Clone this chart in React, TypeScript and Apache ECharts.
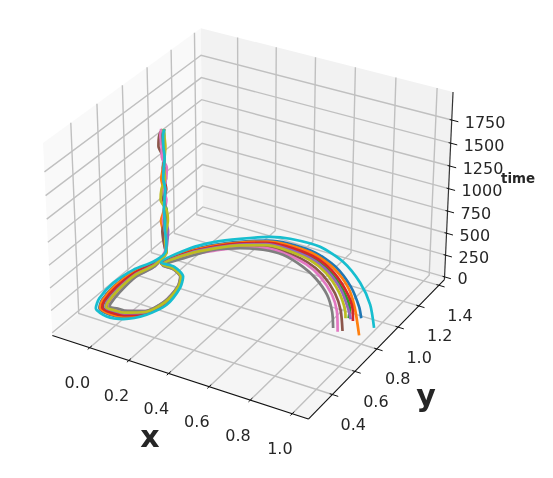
import React, { useEffect, useRef } from "react";
import * as echarts from "echarts";

const xTicks = [0, 0.2, 0.4, 0.6, 0.8, 1.0];
const yTicks = [0.4, 0.6, 0.8, 1.0, 1.2, 1.4];
const zTicks = [0, 250, 500, 750, 1000, 1250, 1500, 1750];
const xLimits = [-0.1935, 1.0765];
const yLimits = [0.194, 1.455];
const zLimits = [-33, 2050];

const timeSamples = [
  -30, -30, -30, -30, -30, -30, -30, -30, -30, -30, -30,
  -30, -30, -30, -30, -30, -30, -30, -30, -30, -30, -30, -30,
  60, 180, 300, 420, 540, 660, 780, 900, 1020, 1140, 1260, 1380, 1450,
];

const blueX = [0.904, 0.852, 0.74, 0.599, 0.459, 0.307, 0.217, 0.11, 0.024, -0.049, -0.102, -0.037, 0.041, 0.078, 0.099, 0.067, -0.006, -0.072, -0.139, -0.166, -0.183, -0.173, -0.135, -0.103, -0.106, -0.099, -0.106, -0.099, -0.106, -0.103, -0.099, -0.106, -0.103, -0.099, -0.106, -0.11];
const blueY = [0.982, 1.06, 1.191, 1.308, 1.372, 1.381, 1.358, 1.284, 1.203, 1.101, 0.94, 0.94, 0.89, 0.804, 0.656, 0.544, 0.473, 0.459, 0.482, 0.545, 0.674, 0.818, 0.929, 0.978, 0.976, 0.98, 0.976, 0.98, 0.976, 0.978, 0.98, 0.976, 0.978, 0.98, 0.976, 0.974];
const orangeX = [0.961, 0.838, 0.734, 0.597, 0.461, 0.31, 0.219, 0.113, 0.027, -0.046, -0.1, -0.037, 0.04, 0.078, 0.098, 0.065, -0.007, -0.071, -0.137, -0.162, -0.18, -0.17, -0.134, -0.103, -0.099, -0.11, -0.118, -0.106, -0.103, -0.106, -0.114, -0.106, -0.099, -0.103, -0.106, -0.103];
const orangeY = [0.855, 1.045, 1.178, 1.293, 1.357, 1.369, 1.349, 1.278, 1.197, 1.096, 0.938, 0.939, 0.889, 0.804, 0.657, 0.545, 0.476, 0.463, 0.484, 0.544, 0.672, 0.815, 0.927, 0.978, 0.98, 0.974, 0.969, 0.976, 0.978, 0.976, 0.972, 0.976, 0.98, 0.978, 0.976, 0.978];
const greenX = [0.856, 0.823, 0.722, 0.591, 0.465, 0.315, 0.224, 0.121, 0.035, -0.04, -0.096, -0.036, 0.038, 0.075, 0.094, 0.061, -0.014, -0.07, -0.127, -0.149, -0.166, -0.162, -0.129, -0.099, -0.103, -0.106, -0.099, -0.095, -0.106, -0.099, -0.103, -0.099, -0.106, -0.103, -0.099, -0.099];
const greenY = [0.955, 1.027, 1.149, 1.262, 1.326, 1.345, 1.33, 1.266, 1.185, 1.086, 0.935, 0.935, 0.888, 0.805, 0.661, 0.55, 0.488, 0.479, 0.492, 0.54, 0.662, 0.806, 0.921, 0.98, 0.978, 0.976, 0.98, 0.982, 0.976, 0.98, 0.978, 0.98, 0.976, 0.978, 0.98, 0.98];
const redX = [0.883, 0.831, 0.727, 0.594, 0.463, 0.313, 0.222, 0.118, 0.032, -0.043, -0.098, -0.036, 0.039, 0.075, 0.095, 0.062, -0.012, -0.07, -0.129, -0.152, -0.169, -0.164, -0.13, -0.103, -0.106, -0.11, -0.099, -0.103, -0.106, -0.095, -0.103, -0.106, -0.099, -0.106, -0.103, -0.099];
const redY = [0.944, 1.037, 1.161, 1.275, 1.339, 1.355, 1.338, 1.271, 1.19, 1.09, 0.936, 0.936, 0.888, 0.804, 0.66, 0.548, 0.485, 0.475, 0.49, 0.541, 0.664, 0.808, 0.923, 0.978, 0.976, 0.974, 0.98, 0.978, 0.976, 0.982, 0.978, 0.976, 0.98, 0.976, 0.978, 0.98];
const purpleX = [0.868, 0.818, 0.719, 0.59, 0.466, 0.317, 0.225, 0.123, 0.037, -0.039, -0.095, -0.035, 0.036, 0.072, 0.089, 0.057, -0.02, -0.069, -0.118, -0.136, -0.154, -0.154, -0.124, -0.103, -0.095, -0.091, -0.099, -0.106, -0.099, -0.106, -0.095, -0.099, -0.106, -0.099, -0.11, -0.106];
const purpleY = [0.952, 1.021, 1.141, 1.253, 1.316, 1.338, 1.325, 1.262, 1.181, 1.083, 0.934, 0.931, 0.886, 0.805, 0.664, 0.554, 0.499, 0.493, 0.499, 0.537, 0.652, 0.798, 0.915, 0.978, 0.982, 0.984, 0.98, 0.976, 0.98, 0.976, 0.982, 0.98, 0.976, 0.98, 0.974, 0.976];
const brownX = [0.882, 0.795, 0.705, 0.584, 0.47, 0.323, 0.231, 0.131, 0.045, -0.032, -0.091, -0.034, 0.034, 0.069, 0.084, 0.052, -0.028, -0.068, -0.108, -0.121, -0.139, -0.145, -0.118, -0.103, -0.11, -0.114, -0.103, -0.099, -0.106, -0.103, -0.106, -0.099, -0.103, -0.122, -0.118, -0.106];
const brownY = [0.85, 0.994, 1.107, 1.216, 1.279, 1.31, 1.302, 1.247, 1.166, 1.071, 0.931, 0.927, 0.884, 0.806, 0.667, 0.559, 0.512, 0.51, 0.507, 0.533, 0.641, 0.788, 0.908, 0.978, 0.974, 0.972, 0.978, 0.98, 0.976, 0.978, 0.976, 0.98, 0.978, 0.967, 0.969, 0.976];
const pinkX = [0.866, 0.783, 0.698, 0.581, 0.472, 0.326, 0.234, 0.136, 0.05, -0.028, -0.089, -0.033, 0.034, 0.068, 0.083, 0.051, -0.029, -0.067, -0.105, -0.117, -0.135, -0.143, -0.116, -0.106, -0.099, -0.103, -0.11, -0.103, -0.095, -0.106, -0.095, -0.091, -0.11, -0.11, -0.114, -0.11];
const pinkY = [0.835, 0.981, 1.091, 1.197, 1.261, 1.296, 1.291, 1.239, 1.158, 1.065, 0.929, 0.926, 0.883, 0.806, 0.668, 0.56, 0.515, 0.514, 0.509, 0.532, 0.639, 0.785, 0.907, 0.976, 0.98, 0.978, 0.974, 0.978, 0.982, 0.976, 0.982, 0.984, 0.974, 0.974, 0.972, 0.974];
const grayX = [0.835, 0.768, 0.681, 0.572, 0.471, 0.34, 0.238, 0.14, 0.047, -0.022, -0.085, -0.033, 0.033, 0.067, 0.082, 0.05, -0.031, -0.067, -0.103, -0.114, -0.132, -0.141, -0.115, -0.103, -0.099, -0.103, -0.106, -0.099, -0.103, -0.099, -0.106, -0.103, -0.099, -0.103, -0.106, -0.099];
const grayY = [0.851, 0.965, 1.078, 1.173, 1.234, 1.281, 1.275, 1.234, 1.165, 1.058, 0.926, 0.925, 0.883, 0.806, 0.669, 0.561, 0.518, 0.518, 0.511, 0.531, 0.636, 0.783, 0.905, 0.978, 0.98, 0.978, 0.976, 0.98, 0.978, 0.98, 0.976, 0.978, 0.98, 0.978, 0.976, 0.98];
const oliveX = [0.844, 0.808, 0.713, 0.588, 0.467, 0.319, 0.228, 0.126, 0.04, -0.036, -0.094, -0.034, 0.036, 0.071, 0.088, 0.056, -0.023, -0.069, -0.115, -0.131, -0.149, -0.152, -0.122, -0.099, -0.103, -0.099, -0.091, -0.095, -0.118, -0.114, -0.099, -0.103, -0.099, -0.095, -0.099, -0.103];
const oliveY = [0.948, 1.01, 1.127, 1.238, 1.302, 1.327, 1.316, 1.256, 1.175, 1.078, 0.933, 0.93, 0.885, 0.805, 0.665, 0.555, 0.503, 0.498, 0.501, 0.536, 0.649, 0.795, 0.913, 0.98, 0.978, 0.98, 0.984, 0.982, 0.969, 0.972, 0.98, 0.978, 0.98, 0.982, 0.98, 0.978];
const cyanX = [0.989, 0.886, 0.761, 0.608, 0.453, 0.298, 0.208, 0.097, 0.011, -0.059, -0.108, -0.038, 0.043, 0.082, 0.105, 0.072, 0.003, -0.073, -0.151, -0.183, -0.2, -0.183, -0.142, -0.103, -0.099, -0.103, -0.103, -0.106, -0.103, -0.099, -0.106, -0.103, -0.099, -0.103, -0.103, -0.099];
const cyanY = [0.941, 1.1, 1.241, 1.363, 1.428, 1.423, 1.392, 1.307, 1.226, 1.119, 0.945, 0.945, 0.892, 0.803, 0.652, 0.538, 0.458, 0.439, 0.472, 0.549, 0.687, 0.829, 0.937, 0.978, 0.98, 0.978, 0.978, 0.976, 0.978, 0.98, 0.976, 0.978, 0.98, 0.978, 0.978, 0.98];

const trajectories = [
  { x: blueX, y: blueY, color: "#1f77b4" },
  { x: orangeX, y: orangeY, color: "#ff7f0e" },
  { x: greenX, y: greenY, color: "#2ca02c" },
  { x: redX, y: redY, color: "#d62728" },
  { x: purpleX, y: purpleY, color: "#9467bd" },
  { x: brownX, y: brownY, color: "#8c564b" },
  { x: pinkX, y: pinkY, color: "#e377c2" },
  { x: grayX, y: grayY, color: "#7f7f7f" },
  { x: oliveX, y: oliveY, color: "#bcbd22" },
  { x: cyanX, y: cyanY, color: "#17becf" },
];

const WIDTH = 553;
const HEIGHT = 478;
const FONT = '"DejaVu Sans"';

// Same view basis as a default mplot3d camera (elev 30, azim -60).
function project(x: number, y: number, z: number): [number, number] {
  const p = ((x - xLimits[0]) / (xLimits[1] - xLimits[0])) * 1.19 - 0.595;
  const q = ((y - yLimits[0]) / (yLimits[1] - yLimits[0])) * 1.19 - 0.595;
  const r = ((z - zLimits[0]) / (zLimits[1] - zLimits[0])) * 0.892 - 0.446;
  const xv = 0.866 * p + 0.5 * q;
  const yv = -0.25 * p + 0.433 * q + 0.866 * r;
  const zv = 0.433 * p - 0.75 * q + 0.5 * r;
  const k = 1 - zv / 10;
  return [252 + (246.5 * xv) / k, 214.2 - (246 * yv) / k];
}

type Decor =
  | { kind: "pane"; points: [number, number][]; fill: string }
  | { kind: "line"; points: [number, number][]; stroke: string; width: number }
  | { kind: "text"; at: [number, number]; text: string; font: string; align: string };

function buildDecor(): Decor[] {
  const [x0, x1] = xLimits;
  const [y0, y1] = yLimits;
  const [z0, z1] = zLimits;
  const out: Decor[] = [];
  const pane = (pts: number[][], fill: string) =>
    out.push({ kind: "pane", points: pts.map((c) => project(c[0], c[1], c[2])), fill });
  const line = (pts: number[][], stroke: string, width: number) =>
    out.push({ kind: "line", points: pts.map((c) => project(c[0], c[1], c[2])), stroke, width });
  const label = (at: [number, number], text: string, font: string, align = "center") =>
    out.push({ kind: "text", at, text, font, align });

  pane([[x0, y0, z0], [x0, y1, z0], [x0, y1, z1], [x0, y0, z1]], "#f9f9f9");
  pane([[x0, y1, z0], [x1, y1, z0], [x1, y1, z1], [x0, y1, z1]], "#f2f2f2");
  pane([[x0, y0, z0], [x1, y0, z0], [x1, y1, z0], [x0, y1, z0]], "#f5f5f5");

  const grid = "#c0c0c0";
  xTicks.forEach((t) => line([[t, y0, z0], [t, y1, z0], [t, y1, z1]], grid, 1.4));
  yTicks.forEach((t) => line([[x1, t, z0], [x0, t, z0], [x0, t, z1]], grid, 1.4));
  zTicks.forEach((t) => line([[x0, y0, t], [x0, y1, t], [x1, y1, t]], grid, 1.4));

  line([[x0, y0, z0], [x1, y0, z0]], "#111111", 1.1);
  line([[x1, y0, z0], [x1, y1, z0]], "#111111", 1.1);
  line([[x1, y1, z0], [x1, y1, z1]], "#333333", 1.2);

  const xSpan = x1 - x0;
  const ySpan = y1 - y0;
  xTicks.forEach((t) => {
    line([[t, y0 - 0.012 * ySpan, z0], [t, y0 + 0.014 * ySpan, z0]], "#111111", 1);
    const [px, py] = project(t, y0, z0);
    label([px - 12.3, py + 35], t.toFixed(1), `16px ${FONT}`);
  });
  yTicks.forEach((t) => {
    line([[x1 - 0.01 * xSpan, t, z0], [x1 + 0.022 * xSpan, t, z0]], "#111111", 1);
    const [px, py] = project(x1, t, z0);
    label([px + 21, py + 30], t.toFixed(1), `16px ${FONT}`);
  });
  zTicks.forEach((t) => {
    line([[x1 - 0.008 * xSpan, y1, t], [x1 + 0.025 * xSpan, y1, t]], "#111111", 1);
    const [px, py] = project(x1, y1, t);
    label([px + 13, py + 2], String(t), `16px ${FONT}`, "left");
  });

  label([150, 436], "x", `bold 30px ${FONT}`);
  label([426, 395], "y", `bold 30px ${FONT}`);
  label([518, 178], "time", `bold 13.4px ${FONT}`);
  return out;
}

export default function App() {
  const ref = useRef<HTMLDivElement>(null);
  useEffect(() => {
    const chart = echarts.init(ref.current!, undefined, { renderer: "svg" });
    const decor = buildDecor();
    chart.setOption({
      animation: false,
      backgroundColor: "#ffffff",
      grid: { left: 0, top: 0, width: WIDTH, height: HEIGHT },
      xAxis: { type: "value", min: 0, max: WIDTH, show: false },
      yAxis: { type: "value", min: 0, max: HEIGHT, inverse: true, show: false },
      series: [
        {
          type: "custom",
          coordinateSystem: "cartesian2d",
          clip: false,
          silent: true,
          z: 1,
          data: decor.map((_, i) => [0, 0, i]),
          renderItem: (_: unknown, api: any) => {
            const d = decor[api.value(2)];
            if (d.kind === "pane") {
              return {
                type: "polygon",
                shape: { points: d.points.map((c) => api.coord(c)) },
                style: { fill: d.fill, stroke: "none" },
              };
            }
            if (d.kind === "line") {
              return {
                type: "polyline",
                shape: { points: d.points.map((c) => api.coord(c)) },
                style: { fill: "none", stroke: d.stroke, lineWidth: d.width },
              };
            }
            const [x, y] = api.coord(d.at);
            return {
              type: "text",
              style: {
                x,
                y,
                text: d.text,
                font: d.font,
                fill: "#262626",
                align: d.align,
                verticalAlign: "middle",
              },
            };
          },
        },
        ...trajectories.map((t, i) => ({
          type: "line",
          z: 2 + i,
          clip: false,
          silent: true,
          smooth: 0.25,
          showSymbol: false,
          symbol: "none",
          lineStyle: { color: t.color, width: 2.7, cap: "butt", join: "round" },
          data: t.x.map((v, j) => project(v, t.y[j], timeSamples[j])),
        })),
      ],
    });
    return () => chart.dispose();
  }, []);
  return (
    <div
      ref={ref}
      style={{
        position: "absolute",
        left: 0,
        top: 0,
        width: WIDTH,
        height: HEIGHT,
        filter: "blur(0.4px)",
      }}
    />
  );
}
